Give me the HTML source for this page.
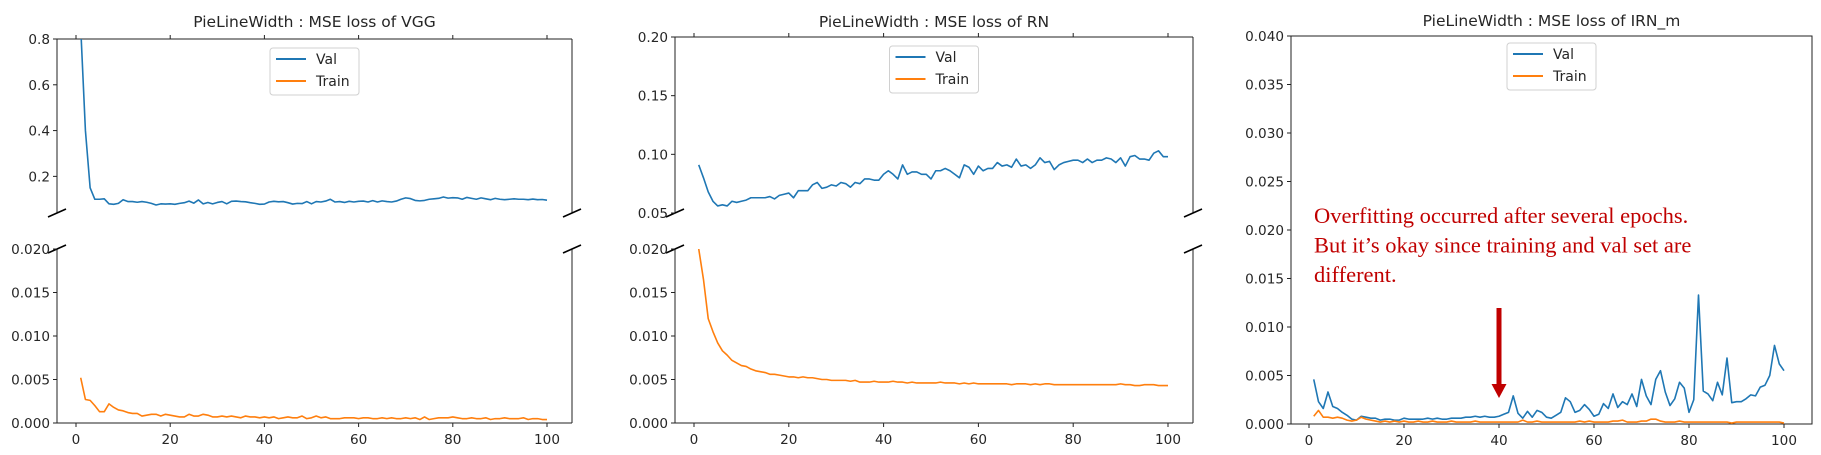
<!DOCTYPE html>
<html><head><meta charset="utf-8"><style>
html,body{margin:0;padding:0;background:#fff;width:1821px;height:455px;overflow:hidden}
svg{display:block}
text{font-family:"DejaVu Sans","Liberation Sans",sans-serif;fill:#262626}
</style></head><body>
<svg id="chart" width="1821" height="455" viewBox="0 0 1821 455" xmlns="http://www.w3.org/2000/svg"></svg>
<script>
const epochs = [];
for (let i = 1; i <= 100; i++) epochs.push(i);
const xTicks = [0, 20, 40, 60, 80, 100];
const vggVal = [0.85,0.40,0.15,0.10,0.10,0.102,0.08,0.078,0.082,0.098,
0.09,0.09,0.087,0.09,0.087,0.082,0.075,0.08,0.079,0.08,
0.078,0.082,0.085,0.092,0.083,0.097,0.08,0.086,0.08,0.086,
0.09,0.08,0.091,0.092,0.09,0.089,0.085,0.082,0.078,0.079,
0.088,0.091,0.089,0.09,0.085,0.079,0.082,0.081,0.09,0.08,
0.09,0.088,0.092,0.1,0.088,0.09,0.086,0.091,0.088,0.091,
0.092,0.088,0.094,0.088,0.093,0.09,0.088,0.092,0.1,0.106,
0.103,0.095,0.093,0.095,0.1,0.102,0.104,0.11,0.105,0.107,
0.106,0.1,0.108,0.104,0.1,0.106,0.102,0.098,0.104,0.1,
0.098,0.1,0.102,0.1,0.1,0.098,0.101,0.098,0.099,0.096];
const vggTrain = [0.0052,0.0027,0.0026,0.002,0.0013,0.0013,0.0022,0.0018,0.0015,0.0014,
0.0012,0.0011,0.0011,0.0008,0.0009,0.001,0.001,0.0008,0.001,0.0009,
0.0008,0.0007,0.0007,0.001,0.0008,0.0008,0.001,0.0009,0.0007,0.0007,
0.0008,0.0007,0.0008,0.0007,0.0006,0.0008,0.0007,0.0007,0.0006,0.0007,
0.0006,0.0007,0.0005,0.0006,0.0007,0.0006,0.0006,0.0008,0.0005,0.0006,
0.0008,0.0006,0.0007,0.0005,0.0005,0.0005,0.0006,0.0006,0.0006,0.0005,
0.0006,0.0006,0.0005,0.0005,0.0006,0.0005,0.0006,0.0005,0.0005,0.0006,
0.0005,0.0006,0.0004,0.0007,0.0004,0.0005,0.0006,0.0006,0.0006,0.0007,
0.0006,0.0005,0.0005,0.0006,0.0005,0.0005,0.0006,0.0004,0.0005,0.0005,
0.0006,0.0005,0.0005,0.0005,0.0006,0.0004,0.0005,0.0005,0.0004,0.0004];
const rnVal = [0.091,0.08,0.068,0.06,0.056,0.057,0.056,0.06,0.059,0.06,
0.061,0.063,0.063,0.063,0.063,0.064,0.062,0.065,0.066,0.067,
0.063,0.069,0.069,0.069,0.074,0.076,0.071,0.072,0.074,0.073,
0.076,0.075,0.072,0.076,0.075,0.079,0.079,0.078,0.078,0.083,
0.086,0.083,0.079,0.091,0.083,0.085,0.085,0.083,0.083,0.079,
0.086,0.086,0.088,0.086,0.083,0.08,0.091,0.089,0.083,0.09,
0.086,0.088,0.088,0.093,0.09,0.091,0.089,0.096,0.09,0.091,
0.088,0.091,0.097,0.093,0.094,0.087,0.091,0.093,0.094,0.095,
0.095,0.093,0.096,0.093,0.095,0.095,0.097,0.096,0.093,0.097,
0.09,0.098,0.099,0.096,0.096,0.095,0.101,0.103,0.098,0.098];
const rnTrain = [0.02,0.0165,0.012,0.0105,0.0092,0.0083,0.0078,0.0072,0.0069,0.0066,
0.0065,0.0062,0.006,0.0059,0.0058,0.0056,0.0056,0.0055,0.0054,0.0053,
0.0053,0.0052,0.0053,0.0052,0.0052,0.0051,0.005,0.005,0.0049,0.0049,
0.0049,0.0049,0.0048,0.0049,0.0047,0.0047,0.0047,0.0048,0.0047,0.0047,
0.0047,0.0048,0.0047,0.0047,0.0046,0.0047,0.0046,0.0046,0.0046,0.0046,
0.0046,0.0047,0.0046,0.0046,0.0046,0.0045,0.0046,0.0045,0.0046,0.0045,
0.0045,0.0045,0.0045,0.0045,0.0045,0.0045,0.0044,0.0045,0.0045,0.0045,
0.0044,0.0045,0.0044,0.0045,0.0045,0.0044,0.0044,0.0044,0.0044,0.0044,
0.0044,0.0044,0.0044,0.0044,0.0044,0.0044,0.0044,0.0044,0.0044,0.0045,
0.0044,0.0044,0.0043,0.0043,0.0044,0.0044,0.0044,0.0043,0.0043,0.0043];
const irnVal = [0.0046,0.0023,0.0016,0.0033,0.0018,0.0016,0.0012,0.0009,0.0005,0.0004,
0.0008,0.0007,0.0006,0.0006,0.0004,0.0005,0.0005,0.0004,0.0004,0.0006,
0.0005,0.0005,0.0005,0.0005,0.0006,0.0005,0.0006,0.0005,0.0005,0.0006,
0.0006,0.0006,0.0007,0.0007,0.0008,0.0007,0.0008,0.0007,0.0007,0.0008,
0.001,0.0012,0.0029,0.0011,0.0006,0.0013,0.0007,0.0014,0.0012,0.0007,
0.0006,0.0009,0.0012,0.0027,0.0023,0.0012,0.0014,0.002,0.0015,0.0008,
0.001,0.0021,0.0016,0.0031,0.0017,0.0023,0.002,0.0031,0.0018,0.0046,
0.0029,0.002,0.0046,0.0055,0.0033,0.0019,0.0026,0.0043,0.0037,0.0012,
0.0025,0.0133,0.0034,0.0031,0.0024,0.0043,0.003,0.0068,0.0022,0.0023,
0.0023,0.0026,0.003,0.0029,0.0038,0.004,0.005,0.0081,0.0062,0.0055];
const irnTrain = [0.0008,0.0014,0.0007,0.0007,0.0006,0.0007,0.0006,0.0004,0.0003,0.0004,
0.0007,0.0005,0.0004,0.0003,0.0002,0.0003,0.0002,0.0003,0.0002,0.0003,
0.0002,0.0002,0.0003,0.0002,0.0002,0.0003,0.0002,0.0002,0.0002,0.0003,
0.0002,0.0002,0.0002,0.0002,0.0003,0.0002,0.0002,0.0002,0.0002,0.0002,
0.0002,0.0002,0.0002,0.0002,0.0004,0.0002,0.0002,0.0003,0.0002,0.0002,
0.0002,0.0002,0.0002,0.0002,0.0002,0.0002,0.0003,0.0002,0.0003,0.0002,
0.0002,0.0002,0.0002,0.0003,0.0003,0.0004,0.0002,0.0002,0.0002,0.0003,
0.0003,0.0005,0.0005,0.0003,0.0002,0.0002,0.0002,0.0003,0.0002,0.0002,
0.0002,0.0002,0.0002,0.0002,0.0002,0.0002,0.0002,0.0002,0.0001,0.0002,
0.0002,0.0002,0.0002,0.0002,0.0002,0.0002,0.0002,0.0002,0.0002,0.0001];
const vggTopTicks = ["0.2","0.4","0.6","0.8"];
const rnTopTicks = ["0.05","0.10","0.15","0.20"];
const lowTicks = ["0.000","0.005","0.010","0.015","0.020"];
const irnTicks = ["0.000","0.005","0.010","0.015","0.020","0.025","0.030","0.035","0.040"];

const NS = "http://www.w3.org/2000/svg";
const svg = document.getElementById("chart");
let clipId = 0;
function mk(tag, attrs, parent) {
  const e = document.createElementNS(NS, tag);
  for (const k in attrs) e.setAttribute(k, attrs[k]);
  (parent || svg).appendChild(e);
  return e;
}
function lin(d0, d1, r0, r1) { return v => r0 + (v - d0) / (d1 - d0) * (r1 - r0); }
const BLUE = "#1f77b4", ORANGE = "#ff7f0e", SP = "#222";

function txt(x, y, s, size, anchor, name) {
  const t = mk("text", {x: x, y: y, "font-size": size, "text-anchor": anchor});
  
  
  t.textContent = s;
  return t;
}
function line(x1, y1, x2, y2, name, stroke, w) {
  const l = mk("line", {x1: x1, y1: y1, x2: x2, y2: y2, stroke: stroke || SP, "stroke-width": w || 1});
  
  
  return l;
}
function series(xs, ys, vals, box, color, name) {
  const id = "clip" + (clipId++);
  const cp = mk("clipPath", {id: id});
  mk("rect", {x: box[0], y: box[1], width: box[2] - box[0], height: box[3] - box[1]}, cp);
  let d = "";
  vals.forEach((v, i) => { d += (i ? "L" : "M") + xs(epochs[i]).toFixed(2) + "," + ys(v).toFixed(2); });
  const p = mk("path", {d: d, fill: "none", stroke: color, "stroke-width": 1.6, "stroke-linejoin": "round", "clip-path": "url(#" + id + ")"});
  
  
}
function yTicks(x0, ys, labels, name) {
  labels.forEach(lb => {
    const y = ys(parseFloat(lb));
    line(x0 - 4, y, x0, y, name + "-tick");
    txt(x0 - 7, y + 5, lb, 13.6, "end", name + "-label");
  });
}
function breakMark(x, y) { line(x - 9, y + 4, x + 9, y - 4, "axis-break-mark", "#000", 1.6); }
function legend(cx, y) {
  const g = mk("g", {});
  
  
  const w = 89, h = 47, x = cx - w / 2;
  mk("rect", {x: x, y: y, width: w, height: h, rx: 3, fill: "#fff", "fill-opacity": 0.85, stroke: "#d0d0d0"}, g);
  const l1 = mk("line", {x1: x + 6, y1: y + 11, x2: x + 36, y2: y + 11, stroke: BLUE, "stroke-width": 2}, g);
  
  const l2 = mk("line", {x1: x + 6, y1: y + 33, x2: x + 36, y2: y + 33, stroke: ORANGE, "stroke-width": 2}, g);
  
  const t1 = mk("text", {x: x + 46, y: y + 16, "font-size": 14}, g); t1.textContent = "Val";
  
  const t2 = mk("text", {x: x + 46, y: y + 38, "font-size": 14}, g); t2.textContent = "Train";
  
}
function xAxis(xs, yb, ytop, name) {
  xTicks.forEach(v => {
    const x = xs(v);
    line(x, yb, x, yb + 4, name + "-x-tick");
    txt(x, yb + 21, String(v), 13.6, "middle", name + "-x-label");
    line(x, ytop - 4, x, ytop, name + "-top-tick");
  });
}
function brokenPanel(cfg) {
  const {x0, x1, xs, topY0, topY1, topDom, topTicks, botY0, botY1, title, val, train, name} = cfg;
  const ysT = lin(topDom[0], topDom[1], topY1, topY0);
  const ysB = lin(0, 0.02, botY1, botY0);
  txt((x0 + x1) / 2, 27, title, 15.5, "middle", name + "-title");
  line(x0, topY0, x1, topY0, name + "-top-spine");
  line(x0, topY0, x0, topY1, name + "-left-spine-top");
  line(x1, topY0, x1, topY1, name + "-right-spine-top");
  line(x0, botY0, x0, botY1, name + "-left-spine-bottom");
  line(x1, botY0, x1, botY1, name + "-right-spine-bottom");
  line(x0, botY1, x1, botY1, name + "-bottom-spine");
  breakMark(x0, topY1); breakMark(x1, topY1); breakMark(x0, botY0); breakMark(x1, botY0);
  yTicks(x0, ysT, topTicks, name + "-top-y");
  yTicks(x0, ysB, lowTicks, name + "-bottom-y");
  xAxis(xs, botY1, topY0, name);
  series(xs, ysT, val, [x0, topY0, x1, topY1], BLUE, name + "-val-line-top");
  series(xs, ysB, val, [x0, botY0, x1, botY1], BLUE, name + "-val-line-bottom");
  series(xs, ysT, train, [x0, topY0, x1, topY1], ORANGE, name + "-train-line-top");
  series(xs, ysB, train, [x0, botY0, x1, botY1], ORANGE, name + "-train-line-bottom");
  legend((x0 + x1) / 2, topY0 + 9);
}
brokenPanel({x0: 57, x1: 572, xs: lin(0, 100, 76, 547), topY0: 39, topY1: 213, topDom: [0.04, 0.8],
  topTicks: vggTopTicks, botY0: 249, botY1: 423, title: "PieLineWidth : MSE loss of VGG", val: vggVal, train: vggTrain, name: "vgg"});
brokenPanel({x0: 675, x1: 1193, xs: lin(0, 100, 694, 1168), topY0: 37, topY1: 213, topDom: [0.05, 0.2],
  topTicks: rnTopTicks, botY0: 249, botY1: 423, title: "PieLineWidth : MSE loss of RN", val: rnVal, train: rnTrain, name: "rn"});

// Panel 3
(function () {
  const x0 = 1291, x1 = 1812, y0 = 36, y1 = 424, name = "irn";
  const xs = lin(0, 100, 1309, 1784), ys = lin(0, 0.04, y1, y0);
  txt((x0 + x1) / 2, 26, "PieLineWidth : MSE loss of IRN_m", 15.5, "middle", name + "-title");
  const r = mk("rect", {x: x0, y: y0, width: x1 - x0, height: y1 - y0, fill: "none", stroke: SP, "stroke-width": 1});
  
  
  yTicks(x0, ys, irnTicks, name + "-y");
  xTicks.forEach(v => { const x = xs(v); line(x, y1, x, y1 + 4, name + "-x-tick"); txt(x, y1 + 21, String(v), 13.6, "middle", name + "-x-label"); });
  series(xs, ys, irnVal, [x0, y0, x1, y1], BLUE, name + "-val-line");
  series(xs, ys, irnTrain, [x0, y0, x1, y1], ORANGE, name + "-train-line");
  legend((x0 + x1) / 2, y0 + 7);
  const lines = ["Overfitting occurred after several epochs.", "But it\u2019s okay since training and val set are", "different."];
  lines.forEach((s, i) => {
    const t = mk("text", {x: 1314, y: 223 + i * 29.5, "font-size": 22.5, style: "font-family:'Liberation Serif',serif;fill:#c00000"});
    
    
    t.textContent = s;
  });
  const ax = xs(40);
  const sh = mk("rect", {x: ax - 2.5, y: 308, width: 5, height: 78, fill: "#c00000"});
  
  
  const hd = mk("polygon", {points: (ax - 7.5) + ",384 " + (ax + 7.5) + ",384 " + ax + ",398", fill: "#c00000"});
  
  
})();
</script>
</body></html>
